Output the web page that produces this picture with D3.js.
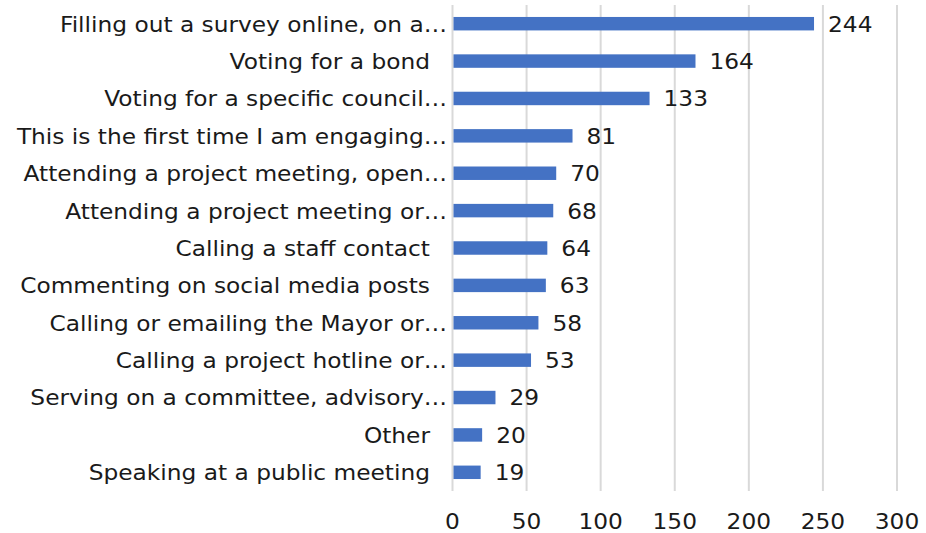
<!DOCTYPE html>
<html><head><meta charset="utf-8">
<script src="https://cdn.jsdelivr.net/npm/d3@7"></script>
<style>
html,body{margin:0;padding:0;background:#fff;}
text{font-family:"DejaVu Sans",sans-serif;fill:#1a1a1a;}
</style></head>
<body><svg id="c" width="926" height="533"></svg>
<script>
const categories = [
  "Filling out a survey online, on a…",
  "Voting for a bond ",
  "Voting for a specific council…",
  "This is the first time I am engaging…",
  "Attending a project meeting, open…",
  "Attending a project meeting or…",
  "Calling a staff contact ",
  "Commenting on social media posts ",
  "Calling or emailing the Mayor or…",
  "Calling a project hotline or…",
  "Serving on a committee, advisory…",
  "Other ",
  "Speaking at a public meeting "
];
const values = [244, 164, 133, 81, 70, 68, 64, 63, 58, 53, 29, 20, 19];
const xTicks = [0, 50, 100, 150, 200, 250, 300];

(function () {
const svg = d3.select("#c");
const mLeft = 452.5, mRight = 897, mTop = 5, mBottom = 491;
const x = d3.scaleLinear().domain([0, 300]).range([mLeft, mRight]);
const y = d3.scaleBand().domain(categories).range([mTop, mBottom]).paddingInner(0.64).paddingOuter(0.32);

const fs = 22;
const probe = svg.append("text").attr("font-size", fs).text("Commenting on social media posts");
const w = probe.node().getComputedTextLength();
probe.remove();
const sx = Math.max(0.9, Math.min(1.2, 410 / w));

// gridlines
svg.append("g").selectAll("line").data(xTicks).join("line")
  .attr("x1", d => x(d)).attr("x2", d => x(d))
  .attr("y1", mTop).attr("y2", mBottom)
  .attr("stroke", "#d9d9d9").attr("stroke-width", 2);

// bars
svg.append("g").selectAll("rect").data(values).join("rect")
  .attr("x", x(0) + 1)
  .attr("y", (d, i) => y(categories[i]))
  .attr("width", d => x(d) - x(0) - 1)
  .attr("height", y.bandwidth())
  .attr("fill", "#4472C4");

// value labels
svg.append("g").selectAll("text").data(values).join("text")
  .attr("transform", (d, i) => `translate(${x(d) + 14},${y(categories[i]) + y.bandwidth() / 2}) scale(${sx},1)`)
  .attr("dy", "0.36em")
  .attr("font-size", fs)
  .text(d => d);

// category labels
svg.append("g").selectAll("text").data(categories).join("text")
  .attr("transform", d => `translate(${447 - (d.endsWith(" ") ? 17 : 0)},${y(d) + y.bandwidth() / 2}) scale(${sx},1)`)
  .attr("dy", "0.36em")
  .attr("text-anchor", "end")
  .attr("font-size", fs)
  .text(d => d.trimEnd());

// x axis labels
svg.append("g").selectAll("text").data(xTicks).join("text")
  .attr("transform", d => `translate(${x(d)},521) scale(${sx},1)`)
  .attr("dy", "0.36em")
  .attr("text-anchor", "middle")
  .attr("font-size", fs)
  .text(d => d);
})();
</script></body></html>
